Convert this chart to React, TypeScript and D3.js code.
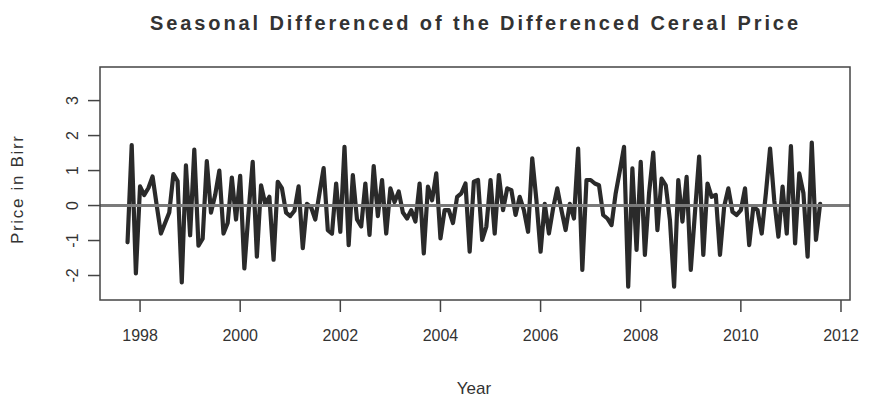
import React from "react";
import * as d3 from "d3";

const startYear = 1997.75;
const values: number[] = [
  -1.05, 1.73, -1.94, 0.55, 0.3, 0.5, 0.83, 0.0, -0.8, -0.5, -0.2, 0.9,
  0.7, -2.2, 1.15, -0.85, 1.6, -1.15, -0.95, 1.27, -0.2, 0.3, 1.0, -0.8,
  -0.5, 0.8, -0.4, 0.85, -1.8, -0.2, 1.25, -1.46, 0.58, 0.05, 0.25, -1.55,
  0.68, 0.5, -0.2, -0.3, -0.15, 0.55, -1.22, 0.05, -0.05, -0.4, 0.35, 1.07,
  -0.7, -0.8, 0.63, -0.75, 1.68, -1.13, 0.87, -0.4, -0.6, 0.63, -0.84, 1.13,
  -0.3, 0.73, -0.8, 0.49, 0.1, 0.4, -0.2, -0.37, -0.13, -0.46, 0.63, -1.37,
  0.54, 0.15, 0.92, -0.94, -0.13, -0.13, -0.5, 0.25, 0.35, 0.63, -1.32, 0.68,
  0.73, -0.98, -0.6, 0.73, -0.8, 0.87, -0.13, 0.49, 0.44, -0.27, 0.25, -0.13,
  -0.75, 1.35, 0.15, -1.32, 0.05, -0.8, -0.08, 0.49, -0.13, -0.7, 0.05, -0.37,
  1.63, -1.84, 0.73, 0.73, 0.63, 0.58, -0.27, -0.37, -0.56, 0.35, 1.0, 1.68,
  -2.32, 1.06, -1.27, 1.25, -1.41, 0.35, 1.51, -0.7, 0.77, 0.58, -0.41, -2.32,
  0.73, -0.46, 0.82, -1.84, -0.2, 1.4, -1.41, 0.63, 0.25, 0.3, -1.41, -0.03,
  0.49, -0.18, -0.27, -0.13, 0.49, -1.13, -0.03, -0.13, -0.8, 0.35, 1.63, 0.15,
  -0.89, 0.54, -0.8, 1.7, -1.08, 0.92, 0.35, -1.46, 1.8, -0.98, 0.05,
];
const xTicks: number[] = [1998, 2000, 2002, 2004, 2006, 2008, 2010, 2012];
const yTicks: number[] = [-2, -1, 0, 1, 2, 3];

const title = "Seasonal Differenced of the Differenced Cereal Price";
const xLabel = "Year";
const yLabel = "Price in Birr";

export default function App() {
  const W = 869, H = 405;
  const left = 100, right = 850, top = 67, bottom = 300;
  const x = d3.scaleLinear().domain([1997.2, 2012.18]).range([left, right]);
  const y = d3.scaleLinear().domain([-2.7, 3.96]).range([bottom, top]);
  const pts = values.map((v, i) => ({ t: startYear + i / 12, v }));
  const line = d3.line<{ t: number; v: number }>().x(d => x(d.t)).y(d => y(d.v));
  const font = "'Liberation Sans', Arial, sans-serif";
  const textCol = "#333";
  return (
    <svg width={W} height={H} style={{ position: "absolute", left: 0, top: 0, background: "#fff" }} fontFamily={font}>
      <text x={474} y={30} textAnchor="middle" fontSize={20} fontWeight="bold" fill={textCol}
        textLength={648} lengthAdjust="spacing">{title}</text>
      <path d={line(pts) || ""} fill="none" stroke="#2a2a2a" strokeWidth={4.2} strokeLinejoin="round" strokeLinecap="round" />
      <line x1={left} x2={right} y1={y(0)} y2={y(0)} stroke="#7a7a7a" strokeWidth={3} />
      <rect x={left} y={top} width={right - left} height={bottom - top} fill="none" stroke="#444" strokeWidth={1.5} />
      {xTicks.map(t => (
        <g key={"x" + t}>
          <line x1={x(t)} x2={x(t)} y1={bottom} y2={bottom + 12} stroke="#444" strokeWidth={1.5} />
          <text x={x(t)} y={341} textAnchor="middle" fontSize={16} fill={textCol}>{t}</text>
        </g>
      ))}
      {yTicks.map(t => (
        <g key={"y" + t}>
          <line x1={left - 12} x2={left} y1={y(t)} y2={y(t)} stroke="#444" strokeWidth={1.5} />
          <text transform={`translate(78,${y(t)}) rotate(-90)`} textAnchor="middle" fontSize={16} fill={textCol}>{t}</text>
        </g>
      ))}
      <text x={474} y={394} textAnchor="middle" fontSize={17} fill={textCol}>{xLabel}</text>
      <text transform={`translate(23,${190}) rotate(-90)`} textAnchor="middle" fontSize={17} fill={textCol}
        textLength={108} lengthAdjust="spacing">{yLabel}</text>
    </svg>
  );
}
